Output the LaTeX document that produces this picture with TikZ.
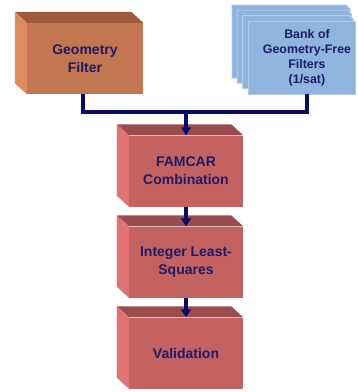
\documentclass[tikz,border=0pt]{standalone}
\usepackage{fontspec}
\setmainfont{Liberation Sans}
\usetikzlibrary{arrows.meta,shapes.misc,calc}
\definecolor{orfront}{HTML}{C47650}
\definecolor{ortop}{HTML}{9B5B3C}
\definecolor{orleft}{HTML}{E08A5E}
\definecolor{rdfront}{HTML}{C46262}
\definecolor{rdtop}{HTML}{9A4B4B}
\definecolor{rdleft}{HTML}{E07272}
\definecolor{blfront}{HTML}{8FB4DE}
\definecolor{bledge}{HTML}{B3CDEB}
\definecolor{navytext}{HTML}{1C1C6B}
\definecolor{navyline}{HTML}{0A0A6A}
\tikzset{
  boxtext/.style={font=\fontsize{14}{18}\selectfont\bfseries, text=navytext, align=center, inner sep=0pt},
  redfront/.style={boxtext, fill=rdfront, minimum width=114pt, minimum height=71pt},
  orfrontbox/.style={boxtext, fill=orfront, minimum width=116pt, minimum height=71pt},
  blueplate/.style={fill=blfront, draw=bledge, line width=0.8pt},
  conn/.style={draw=navyline, line width=3.5pt},
  arr/.style={conn, -{Triangle[width=10pt,length=8pt]}},
}
\newcommand{\boxfaces}[3]{%
  \fill[#2] (#1.north west) -- ++(-12,-11) -- ([shift={(-12,-11)}]#1.north east) -- (#1.north east) -- cycle;
  \fill[#3] (#1.north west) -- ++(-12,-11) -- ([shift={(-12,-11)}]#1.south west) -- (#1.south west) -- cycle;
}
\begin{document}
\begin{tikzpicture}[x=1pt,y=-1pt]
\useasboundingbox (0,0) rectangle (358,392);
% Geometry filter
\node[orfrontbox] (geo) at (85,58.5) {Geometry\\Filter};
\boxfaces{geo}{ortop}{orleft}
% Bank plates
\foreach \i in {0,1,2}{
  \pgfmathsetmacro{\l}{232+5.3*\i}
  \pgfmathsetmacro{\r}{350+1.7*\i}
  \pgfmathsetmacro{\t}{5+5.3*\i}
  \pgfmathsetmacro{\b}{78+5.3*\i}
  \filldraw[blueplate] (\l,\t) -- (\r-4,\t) -- (\r,\t+4) -- (\r,\b) -- (\l,\b) -- cycle;
}
\node[blueplate, chamfered rectangle, chamfered rectangle corners=north east, chamfered rectangle xsep=4pt, chamfered rectangle ysep=4pt, minimum width=107pt, minimum height=73pt, inner sep=0pt] (bank) at (301.5,57.5) {};
\node[font=\fontsize{12.4}{15}\selectfont\bfseries, text=navytext, align=center, inner sep=0pt] (banktext) at (307,58) {Bank of\\Geometry-Free\\Filters\\(1/sat)};
% Red boxes
\node[redfront] (famcar) at (186,171) {FAMCAR\\Combination};
\boxfaces{famcar}{rdtop}{rdleft}
\node[redfront] (ils) at (186,262) {Integer Least-\\Squares};
\boxfaces{ils}{rdtop}{rdleft}
\node[redfront] (val) at (186,353) {Validation};
\boxfaces{val}{rdtop}{rdleft}
% Connectors
\coordinate (j) at (186,112);
\draw[conn] ([xshift=-2pt]geo.south) |- (j);
\draw[conn] ([xshift=5.5pt]bank.south) |- (j);
\draw[arr] ([yshift=1.75pt]j) -- (famcar.north);
\draw[arr] (famcar.south) -- (ils.north);
\draw[arr] (ils.south) -- (val.north);
\end{tikzpicture}
\end{document}
